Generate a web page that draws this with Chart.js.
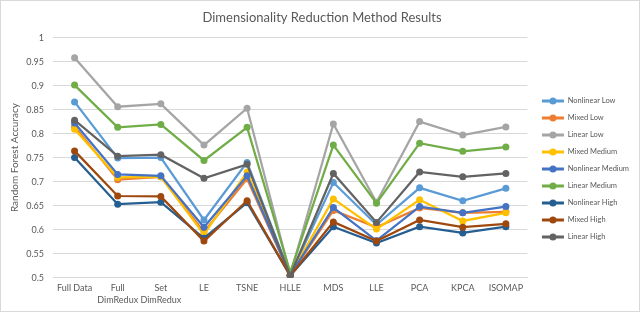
<!DOCTYPE html>
<html>
<head>
<meta charset="utf-8">
<script src="https://cdn.jsdelivr.net/npm/chart.js@4"></script>
<style>
  html, body { margin: 0; padding: 0; background: #fff; }
  #box { position: absolute; left: 0; top: 0; width: 640px; height: 312px; border: 1px solid #d9d9d9; box-sizing: border-box; }
</style>
</head>
<body>
<div id="box"><canvas id="chart"></canvas></div>
<script>
// Categorias del eje x
var metodos = ["Full Data", ["Full", "DimRedux"], ["Set", "DimRedux"], "LE", "TSNE", "HLLE", "MDS", "LLE", "PCA", "KPCA", "ISOMAP"];

// Valores
var nonlinearLow    = [0.866, 0.749, 0.750, 0.620, 0.740, 0.505, 0.698, 0.610, 0.687, 0.660, 0.686];
var mixedLow        = [0.815, 0.704, 0.710, 0.595, 0.706, 0.505, 0.640, 0.605, 0.645, 0.635, 0.637];
var linearLow       = [0.958, 0.856, 0.862, 0.776, 0.853, 0.506, 0.820, 0.657, 0.825, 0.797, 0.814];
var mixedMedium     = [0.809, 0.709, 0.710, 0.590, 0.720, 0.505, 0.664, 0.601, 0.662, 0.618, 0.635];
var nonlinearMedium = [0.822, 0.715, 0.712, 0.605, 0.712, 0.505, 0.646, 0.577, 0.648, 0.635, 0.648];
var linearMedium    = [0.901, 0.813, 0.819, 0.744, 0.813, 0.511, 0.776, 0.655, 0.780, 0.763, 0.772];
var nonlinearHigh   = [0.750, 0.653, 0.657, 0.582, 0.656, 0.504, 0.606, 0.572, 0.606, 0.593, 0.606];
var mixedHigh       = [0.764, 0.670, 0.669, 0.576, 0.660, 0.504, 0.616, 0.576, 0.620, 0.605, 0.612];
var linearHigh      = [0.828, 0.753, 0.756, 0.707, 0.736, 0.504, 0.717, 0.615, 0.720, 0.710, 0.717];

var nombres = ["Nonlinear Low", "Mixed Low", "Linear Low", "Mixed Medium", "Nonlinear Medium",
               "Linear Medium", "Nonlinear High", "Mixed High", "Linear High"];
var series = [nonlinearLow, mixedLow, linearLow, mixedMedium, nonlinearMedium,
              linearMedium, nonlinearHigh, mixedHigh, linearHigh];
var colores = ["#5B9BD5", "#ED7D31", "#A5A5A5", "#FFC000", "#4472C4", "#70AD47", "#255E91", "#9E480E", "#636363"];

var gris = "#595959";
var fuente = "Lato, sans-serif";
var hueco = 5; // espacio entre el area del grafico y la leyenda

var datasets = series.map(function (vals, i) {
    return {
        label: nombres[i],
        data: vals,
        borderColor: colores[i],
        backgroundColor: colores[i],
        borderWidth: 2.25,
        pointRadius: 3.5,
        pointHoverRadius: 3.5,
        pointBorderWidth: 0,
        tension: 0,
        order: series.length - i // la ultima serie queda arriba, como en Excel
    };
});

// leyenda: deja un hueco a la izquierda y dibuja el punto sobre la linea
var ajusteLeyenda = {
    id: "ajusteLeyenda",
    afterInit: function (chart) {
        var leg = chart.legend;
        var fitOrig = leg.fit;
        leg.fit = function () {
            fitOrig.call(this);
            this.width += hueco;
        };
    },
    afterLayout: function (chart) {
        chart.legend.left += hueco;
    },
    afterDraw: function (chart) {
        var leg = chart.legend;
        if (!leg || !leg.legendHitBoxes) return;
        var c = chart.ctx;
        leg.legendHitBoxes.forEach(function (hb, i) {
            var item = leg.legendItems[i];
            var cx = hb.left + leg.options.labels.boxWidth / 2;
            var cy = hb.top + hb.height / 2;
            c.save();
            c.fillStyle = item.strokeStyle;
            c.beginPath();
            c.arc(cx, cy, 3.5, 0, Math.PI * 2);
            c.fill();
            c.restore();
        });
    }
};

new Chart(document.getElementById("chart"), {
    type: "line",
    data: { labels: metodos, datasets: datasets },
    plugins: [ajusteLeyenda],
    options: {
        responsive: true,
        maintainAspectRatio: false,
        animation: false,
        layout: { padding: { left: 4, right: 0, top: 0, bottom: 0 } },
        plugins: {
            title: {
                display: true,
                text: "Dimensionality Reduction Method Results",
                color: gris,
                font: { family: fuente, size: 13, weight: "normal" },
                padding: { top: 9, bottom: 12 }
            },
            legend: {
                position: "right",
                title: { display: true, text: " ", padding: { top: 7, bottom: 7 }, font: { size: 10 } },
                labels: {
                    color: gris,
                    font: { family: fuente, size: 7.5 },
                    boxWidth: 22,
                    boxHeight: 3,
                    padding: 9.5,
                    sort: function (a, b) { return a.datasetIndex - b.datasetIndex; },
                    generateLabels: function (chart) {
                        return chart.data.datasets.map(function (ds, i) {
                            return {
                                text: ds.label,
                                fillStyle: ds.borderColor,
                                strokeStyle: ds.borderColor,
                                lineWidth: 0,
                                fontColor: gris,
                                datasetIndex: i,
                                hidden: false
                            };
                        });
                    }
                }
            },
            tooltip: { enabled: false }
        },
        scales: {
            x: {
                offset: true,
                grid: { display: false, drawTicks: false },
                border: { color: "#d9d9d9" },
                ticks: { color: gris, font: { family: fuente, size: 9, lineHeight: 1.3 }, maxRotation: 0, autoSkip: false, padding: 5 }
            },
            y: {
                min: 0.5,
                max: 1,
                afterFit: function (scale) { scale.width = 48; },
                grid: { color: "#d9d9d9", drawTicks: false },
                border: { display: false },
                ticks: {
                    stepSize: 0.05,
                    color: gris,
                    font: { family: fuente, size: 9 },
                    padding: 9,
                    callback: function (v) { return parseFloat(v.toFixed(2)).toString(); }
                },
                title: {
                    display: true,
                    text: "Random Forest Accuracy",
                    color: gris,
                    font: { family: fuente, size: 10 }
                }
            }
        }
    }
});
</script>
</body>
</html>
